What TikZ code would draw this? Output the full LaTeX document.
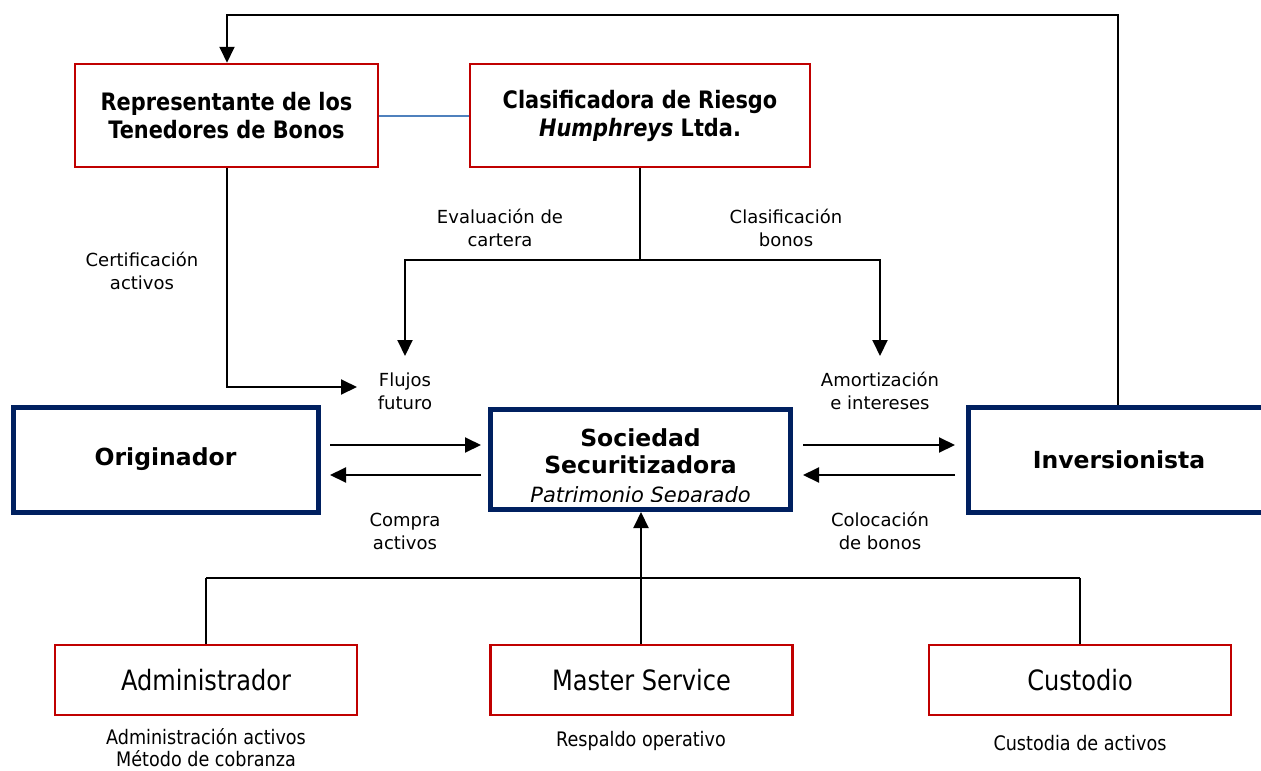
\documentclass[tikz,border=0pt]{standalone}
\usepackage{fontspec}
\setmainfont{DejaVu Sans}
\newfontfamily\condA[FakeStretch=0.87]{DejaVu Sans}
\newfontfamily\condB[FakeStretch=0.86]{DejaVu Sans}
\newfontfamily\condC[FakeStretch=0.88]{DejaVu Sans}
\usetikzlibrary{arrows.meta}
\definecolor{navy}{RGB}{0,32,96}
\definecolor{dred}{RGB}{192,0,0}
\definecolor{lblue}{RGB}{79,129,189}
\tikzset{
  bigfont/.style={font=\fontsize{23.5}{27}\selectfont\bfseries},
  navybox/.style={draw=navy, line width=5pt, minimum width=#1, minimum height=105pt, inner sep=0pt, align=center, bigfont},
  topbox/.style={draw=dred, line width=2.5pt, minimum height=103pt, inner sep=0pt, align=center, font=\condA\fontsize{24}{28}\selectfont\bfseries},
  botbox/.style={draw=dred, line width=2.5pt, minimum width=302pt, minimum height=70pt, inner sep=0pt, align=center, font=\condB\fontsize{28}{32}\selectfont},
  lbl/.style={align=center, inner sep=0pt, font=\fontsize{18}{23}\selectfont},
  blbl/.style={align=center, inner sep=0pt, font=\condC\fontsize{20}{22}\selectfont},
  conn/.style={line width=2pt, -{Triangle[length=16pt,width=15pt]}},
  line/.style={line width=2pt},
}
\begin{document}
\begin{tikzpicture}[x=1pt,y=-1pt]
\useasboundingbox (0,0) rectangle (1261,771);
% top boxes
\node[topbox, minimum width=303pt] (rep) at (226.5,115.5) {Representante de los\\Tenedores de Bonos};
\node[topbox, minimum width=340pt] (cla) at (640,115.5) {Clasificadora de Riesgo\\{\itshape Humphreys} Ltda.};
% main row
\node[navybox=305pt] (ori) at (165.5,459.5) {Originador};
\node[minimum width=300pt, minimum height=100pt, inner sep=0pt, outer sep=2.5pt] (soc) at (640.5,459.5) {};
\node[bigfont, align=center, inner sep=0pt] (soct) at (640.5,451) {Sociedad\\Securitizadora};
\node[font=\fontsize{21}{23}\selectfont\itshape, inner sep=0pt, anchor=base] (socp) at (640.5,502) {Patrimonio Separado};
\fill[white] (491,501.5) rectangle (790,510);
\draw[navy, line width=5pt] (490.5,409.5) rectangle (790.5,509.5);
\node[navybox=310pt, anchor=west] (inv) at (966,459.5) {};
\node[bigfont, inner sep=0pt] (invt) at (1119,460) {Inversionista};
% bottom boxes
\node[botbox] (adm) at (206,680) {Administrador};
\node[botbox] (mas) at (641.5,680) {Master Service};
\node[botbox] (cus) at (1080,680) {Custodio};
% labels
\node[lbl] (lcert) at (142,271) {Certificación\\activos};
\node[lbl] (leval) at (500,228) {Evaluación de\\cartera};
\node[lbl] (lclas) at (786,228) {Clasificación\\bonos};
\node[lbl] (lflu) at (405,391) {Flujos\\futuro};
\node[lbl] (lamo) at (880,391) {Amortización\\e intereses};
\node[lbl] (lcom) at (405,531) {Compra\\activos};
\node[lbl] (lcol) at (880,531) {Colocación\\de bonos};
\node[blbl] (ladm) at (206,748) {Administración activos\\Método de cobranza};
\node[blbl] (lmas) at (641,741) {Respaldo operativo};
\node[blbl] (lcus) at (1080,743) {Custodia de activos};
% coordinates
\coordinate (tl) at (227,15);
\coordinate (tr) at (1118,15);
\coordinate (cd) at (227,387);
\coordinate (fl) at (357,387);
\coordinate (cj) at (640,260);
\coordinate (el) at (405,260);
\coordinate (er) at (880,260);
\coordinate (ea) at (405,356);
\coordinate (eb) at (880,356);
\coordinate (bj) at (641,578);
\coordinate (bl) at (206,578);
\coordinate (br) at (1080,578);
\coordinate (o1) at (330,445);
\coordinate (s1) at (481,445);
\coordinate (s2) at (481,475);
\coordinate (o2) at (330,475);
\coordinate (s3) at (803,445);
\coordinate (i1) at (955,445);
\coordinate (i2) at (955,475);
\coordinate (s4) at (803,475);
% connectors
\draw[conn] (inv.north -| tr) -- (tr) -- (tl) -- (rep.north -| tl);
\draw[lblue, line width=2pt] (rep.east) -- (cla.east -| cla.west);
\draw[conn] (rep.south -| cd) -- (cd) -- (fl);
\draw[line] (cla.south) -- (cj);
\draw[conn] (cj) -- (el) -- (ea);
\draw[conn] (cj) -- (er) -- (eb);
\draw[conn] (o1) -- (s1);
\draw[conn] (s2) -- (o2);
\draw[conn] (s3) -- (i1);
\draw[conn] (i2) -- (s4);
\draw[conn] (bj) -- (soc.south -| bj);
\draw[line] (bl) -- (br);
\draw[line] (adm.north -| bl) -- (bl);
\draw[line] (mas.north -| bj) -- (bj);
\draw[line] (cus.north -| br) -- (br);
\end{tikzpicture}
\end{document}
